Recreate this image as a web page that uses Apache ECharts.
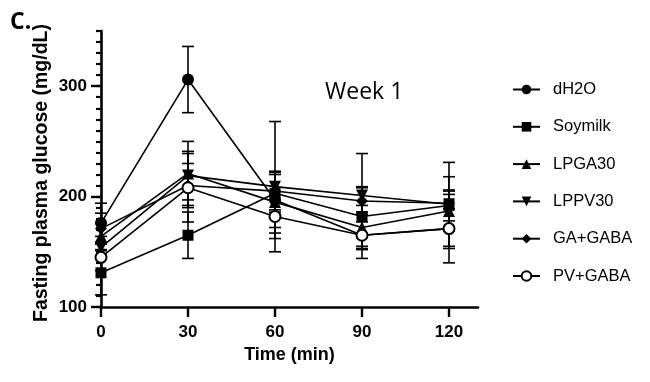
<!DOCTYPE html>
<html>
<head>
<meta charset="utf-8">
<script src="https://cdn.jsdelivr.net/npm/echarts@6/dist/echarts.min.js"></script>
<style>
html,body{margin:0;padding:0;background:#fff;}
#chart{width:650px;height:382px;}
</style>
</head>
<body>
<div id="chart"></div>
<script>
// ---- data ----
const times = [0, 30, 60, 90, 120];
const xTicks = [0, 30, 60, 90, 120];
const yTicks = [100, 200, 300];
const groupNames = ['dH2O', 'Soymilk', 'LPGA30', 'LPPV30', 'GA+GABA', 'PV+GABA'];
const yTitle = 'Fasting plasma glucose (mg/dL)';
const xTitle = 'Time (min)';

const dH2O     = [176, 306, 197, 165, 171];
const soymilk  = [131, 165, 203, 182, 192];
const lpga30   = [164, 221, 195, 172, 187];
const lppv30   = [154, 219, 209, 201, 193];
const gaGaba   = [171, 210, 205, 196, 194];
const pvGaba   = [145, 208, 182, 165, 171];

const dH2O_sem    = [18, 30, 25, 21, 31];
const soymilk_sem = [20, 21, 17, 27, 14];
const lpga30_sem  = [12, 29, 28, 20, 18];
const lppv30_sem  = [10, 22, 59, 38, 38];
const gaGaba_sem  = [14, 20, 17, 12, 24];
const pvGaba_sem  = [12, 31, 20, 12, 18];

const values = [dH2O, soymilk, lpga30, lppv30, gaGaba, pvGaba];
const sems = [dH2O_sem, soymilk_sem, lpga30_sem, lppv30_sem, gaGaba_sem, pvGaba_sem];

// ---- styling ----
const symbols = ['circle', 'rect', 'triangle', 'triangle', 'diamond', 'emptyCircle'];
const symbolRot = [0, 0, 0, 180, 0, 0];
const symbolSizes = [12, 11, 12, 12, 12, 11];

const chart = echarts.init(document.getElementById('chart'), null, {renderer: 'canvas'});

const series = [];
values.forEach((vals, i) => {
  series.push({
    type: 'custom',
    name: groupNames[i] + '_err',
    data: times.map((t, k) => [t, vals[k], sems[i][k]]),
    encode: {x: 0, y: 1},
    z: 2,
    silent: true,
    renderItem: function (params, api) {
      const x = api.value(0), y = api.value(1), e = api.value(2);
      const top = api.coord([x, y + e]);
      const bot = api.coord([x, y - e]);
      const hw = 6;
      const st = {stroke: '#000', lineWidth: 1.6};
      return {
        type: 'group',
        children: [
          {type: 'line', shape: {x1: top[0], y1: top[1], x2: bot[0], y2: bot[1]}, style: st},
          {type: 'line', shape: {x1: top[0] - hw, y1: top[1], x2: top[0] + hw, y2: top[1]}, style: st},
          {type: 'line', shape: {x1: bot[0] - hw, y1: bot[1], x2: bot[0] + hw, y2: bot[1]}, style: st}
        ]
      };
    }
  });
});
values.forEach((vals, i) => {
  series.push({
    type: 'line',
    name: groupNames[i],
    data: times.map((t, k) => [t, vals[k]]),
    symbol: symbols[i],
    symbolRotate: symbolRot[i],
    symbolSize: symbolSizes[i],
    showAllSymbol: true,
    z: 3,
    color: '#000',
    lineStyle: {color: '#000', width: 1.6, type: 'solid'},
    itemStyle: {color: '#000', borderColor: '#000', borderWidth: i === 5 ? 2.4 : 0},
    emphasis: {disabled: true}
  });
});

const option = {
  animation: false,
  backgroundColor: '#fff',
  title: [
    {text: 'C.', left: 5, top: 6, textStyle: {fontFamily: 'Open Sans', fontWeight: 'bold', fontSize: 23, color: '#000'}},
    {text: 'Week 1', left: 320, top: 76, textStyle: {fontFamily: 'Open Sans', fontWeight: 'normal', fontSize: 23, color: '#000'}}
  ],
  graphic: [{
    type: 'text',
    x: 42, y: 173,
    rotation: Math.PI / 2,
    style: {
      text: yTitle,
      fill: '#000',
      font: 'bold 19.5px "Liberation Sans", Arial, sans-serif',
      textAlign: 'center',
      textVerticalAlign: 'middle'
    }
  }],
  legend: {
    data: groupNames,
    orient: 'vertical',
    left: 507,
    top: 76,
    itemWidth: 27,
    itemHeight: 12,
    itemGap: 20.3,
    selectedMode: false,
    textStyle: {fontFamily: 'Liberation Sans', fontSize: 16.5, color: '#000', padding: [0, 0, 0, 8]}
  },
  grid: {left: 101, right: 172, top: 31, bottom: 75, containLabel: false},
  xAxis: {
    type: 'value',
    min: 0, max: 130, interval: 30,
    name: xTitle,
    nameLocation: 'middle',
    nameGap: 38,
    nameTextStyle: {fontFamily: 'Liberation Sans', fontWeight: 'bold', fontSize: 18, color: '#000'},
    axisLine: {show: true, onZero: false, lineStyle: {color: '#000', width: 2.6}},
    axisTick: {show: true, length: 10, lineStyle: {color: '#000', width: 2.4}, customValues: xTicks},
    axisLabel: {margin: 17, fontFamily: 'Liberation Sans', fontWeight: 'bold', fontSize: 17, color: '#000', customValues: xTicks},
    splitLine: {show: false}
  },
  yAxis: [{
    type: 'value',
    min: 100, max: 350, interval: 100,
    axisLine: {show: true, onZero: false, lineStyle: {color: '#000', width: 2.6}},
    axisTick: {show: true, length: 10, lineStyle: {color: '#000', width: 2.4}, customValues: yTicks},
    axisLabel: {margin: 14, fontFamily: 'Liberation Sans', fontWeight: 'bold', fontSize: 17, color: '#000', customValues: yTicks},
    splitLine: {show: false}
  }, {
    type: 'value',
    min: 100, max: 350, interval: 10,
    position: 'left',
    axisLine: {show: false},
    axisTick: {show: true, length: 5, lineStyle: {color: '#000', width: 2.2}},
    axisLabel: {show: false},
    splitLine: {show: false}
  }],
  series: series
};
chart.setOption(option);
</script>
</body>
</html>
